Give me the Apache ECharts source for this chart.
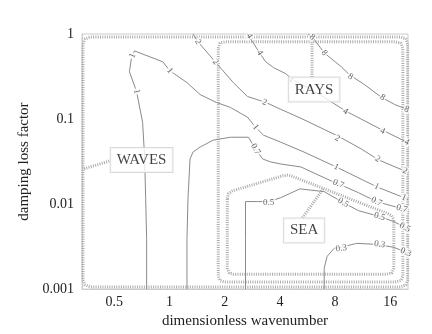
<!DOCTYPE html>
<html><head><meta charset="utf-8">
<script src="https://cdn.jsdelivr.net/npm/echarts@6/dist/echarts.min.js"></script>
<style>html,body{margin:0;padding:0;background:#fff}#c{width:432px;height:334px}</style>
</head><body><div id="c"></div>
<script>
// ---- data (x = dimensionless wavenumber, y = damping loss factor) ----
const xTickValues = [0.5, 1, 2, 4, 8, 16];
const yTickValues = [0.001, 0.01, 0.1, 1];

const contour8 = [[5.70,1],[6.07,0.898],[6.98,0.600],[8.65,0.412],[9.58,0.332],[11.58,0.254],[14.37,0.179],[16.94,0.148],[19.72,0.130],[20,0.123]];
const contour4 = [[2.663,1],[2.838,0.807],[3.101,0.600],[3.346,0.471],[3.702,0.401],[4.310,0.341],[4.711,0.291],[6.718,0.189],[9.221,0.123],[14.55,0.0738],[19.72,0.0534],[20,0.0507]];
const contour2 = [[1.343,1],[1.431,0.807],[1.775,0.471],[2.230,0.268],[2.663,0.184],[3.346,0.157],[4.045,0.130],[5.214,0.102],[8.333,0.0628],[11.15,0.0443],[13.83,0.0330],[19.23,0.0245],[20,0.0232]];
const contour1 = [[0.750,0.001],[0.750,0.00395],[0.741,0.0116],[0.731,0.0367],[0.713,0.0915],[0.661,0.211],[0.604,0.36],[0.620,0.525],[0.644,0.633],[0.919,0.471],[1.004,0.370],[1.245,0.268],[1.468,0.194],[1.798,0.157],[2.147,0.137],[2.663,0.105],[2.947,0.080],[3.262,0.0645],[4.045,0.0534],[5.416,0.0409],[8.122,0.0273],[13.48,0.0160],[18.99,0.0119],[20,0.0113]];
const contour07 = [[1.245,0.001],[1.245,0.00395],[1.261,0.0116],[1.294,0.0339],[1.343,0.0409],[1.468,0.0468],[1.731,0.0564],[2.147,0.0611],[2.697,0.0611],[2.947,0.0443],[3.220,0.0339],[3.565,0.0313],[4.045,0.0296],[5.214,0.0273],[7.624,0.0187],[8.333,0.0173],[10.73,0.0136],[13.48,0.0107],[18.51,0.00883],[20,0.00815]];
const contour05 = [[2.597,0.001],[2.597,0.00395],[2.597,0.0107],[3.023,0.0107],[3.475,0.0107],[4.045,0.0119],[5.148,0.0151],[6.979,0.0140],[8.875,0.0104],[10.73,0.00837],[14.01,0.00713],[16.73,0.00623],[19.23,0.00531],[20,0.00503]];
const contour03 = [[6.979,0.001],[6.979,0.00176],[7.245,0.00243],[7.918,0.00302],[8.652,0.00310],[10.47,0.00345],[13.48,0.00336],[16.73,0.00310],[19.47,0.00271],[20,0.00257]];

const labels8 = [[6.0,0.92],[6.98,0.60],[9.70,0.315],[14.55,0.179],[19.7,0.130]];
const labels4 = [[2.73,0.948],[3.10,0.60],[4.59,0.291],[9.10,0.123],[14.55,0.072],[19.72,0.0534]];
const labels2 = [[1.43,0.807],[1.78,0.471],[3.30,0.157],[8.23,0.0595],[13.65,0.0339],[19.23,0.0245]];
const labels1 = [[0.628,0.554],[0.661,0.211],[1.004,0.370],[2.947,0.080],[8.122,0.0273],[13.48,0.016],[18.99,0.0119]];
const labels07 = [[2.947,0.0443],[8.333,0.0173],[13.48,0.0107],[18.51,0.00883]];
const labels05 = [[3.475,0.0104],[8.875,0.0104],[14.01,0.00713],[19.23,0.00531]];
const labels03 = [[8.652,0.00302],[14.01,0.00336],[19.47,0.00271]];

const contourNames = ['8', '4', '2', '1', '0.7', '0.5', '0.3'];

const wavesRegion = [[0.337,0.764],[0.346,0.874],[0.369,0.923],[18.28,0.923],[19.47,0.874],[19.9,0.764],[19.9,0.00128],[19.47,0.00112],[18.28,0.00106],[0.369,0.00106],[0.346,0.00112],[0.337,0.00128],[0.337,0.764]];
const raysRegion = [[1.844,0.680],[1.885,0.785],[1.998,0.808],[16.94,0.808],[18.28,0.785],[18.75,0.680],[18.75,0.00140],[18.28,0.00126],[16.94,0.00121],[1.998,0.00121],[1.885,0.00126],[1.844,0.00140],[1.844,0.680]];
const seaRegion = [[2.066,0.0116],[2.093,0.0132],[2.202,0.0143],[4.150,0.0215],[4.365,0.0220],[4.593,0.0215],[15.50,0.00773],[16.30,0.00732],[16.73,0.00658],[16.73,0.00176],[16.30,0.00154],[15.30,0.00150],[2.230,0.00150],[2.120,0.00154],[2.066,0.00176],[2.066,0.0116]];
const wavesLink = [[0.342,0.026],[0.470,0.0321]];
const raysLink = [[5.99,0.923],[5.99,0.307]];
const seaLink = [[6.89,0.0151],[5.28,0.00676]];

const regionNames = ['WAVES', 'RAYS', 'SEA'];
const regionLabelPos = [[0.704,0.0330],[6.15,0.222],[5.42,0.00489]];

const xTitle = 'dimensionless wavenumber';
const yTitle = 'damping loss factor';

// ---- chart ----
const serif = 'Liberation Serif';
const lineGray = '#8a8a8a';
const dotGray = '#ababab';
const contours = [contour8, contour4, contour2, contour1, contour07, contour05, contour03];
const contourLabels = [labels8, labels4, labels2, labels1, labels07, labels05, labels03];

function buildSeries(rotations) {
  const series = [];
  [wavesRegion, raysRegion, seaRegion, wavesLink, raysLink, seaLink].forEach(function (d) {
    series.push({type: 'line', data: d, symbol: 'none', silent: true, z: 1,
      lineStyle: {color: dotGray, width: 3, type: [1, 1.3]}});
  });
  contours.forEach(function (d) {
    series.push({type: 'line', data: d, symbol: 'none', silent: true, z: 2,
      lineStyle: {color: lineGray, width: 1}});
  });
  contourLabels.forEach(function (d, i) {
    series.push({type: 'scatter', symbolSize: 0, silent: true, z: 3,
      data: d.map(function (p, j) {
        return {value: p, label: {rotate: rotations ? rotations[i][j] : 0}};
      }),
      label: {show: true, position: 'inside', formatter: contourNames[i], fontFamily: serif,
        fontSize: 9, color: '#3a3a3a', backgroundColor: '#fff', padding: [0, 1]}});
  });
  series.push({type: 'scatter', symbolSize: 0, silent: true, z: 4,
    data: regionLabelPos.map(function (p, i) { return {value: p, name: regionNames[i]}; }),
    label: {show: true, position: 'inside', formatter: '{b}', fontFamily: serif, fontSize: 15,
      color: '#111', backgroundColor: '#fff', borderColor: '#cfcfcf', borderWidth: 1, padding: [5, 6, 4, 6]}});
  return series;
}

const chart = echarts.init(document.getElementById('c'), null, {renderer: 'canvas'});
chart.setOption({
  animation: false,
  grid: {left: 82, right: 24, top: 34, bottom: 43, show: true, borderColor: '#cccccc', borderWidth: 1},
  xAxis: {type: 'log', logBase: 2, min: 0.333, max: 20,
    name: xTitle, nameLocation: 'middle', nameGap: 21,
    nameTextStyle: {fontFamily: serif, fontSize: 15, color: '#222'},
    axisLine: {show: true, lineStyle: {color: '#cccccc'}},
    axisTick: {show: false}, splitLine: {show: false},
    axisLabel: {fontFamily: serif, fontSize: 14, color: '#222', margin: 6,
      showMinLabel: false, showMaxLabel: false,
      formatter: function (v) { return xTickValues.indexOf(+v.toPrecision(6)) >= 0 ? String(+v.toPrecision(6)) : ''; }}},
  yAxis: {type: 'log', logBase: 10, min: 0.001, max: 1,
    name: yTitle, nameLocation: 'middle', nameGap: 47,
    nameTextStyle: {fontFamily: serif, fontSize: 15, color: '#222'},
    axisLine: {show: true, lineStyle: {color: '#cccccc'}},
    axisTick: {show: false}, splitLine: {show: false},
    axisLabel: {fontFamily: serif, fontSize: 14, color: '#222', margin: 8,
      formatter: function (v) { return yTickValues.indexOf(+v.toPrecision(6)) >= 0 ? String(+v.toPrecision(6)) : ''; }}},
  series: buildSeries(null)
});

// orient each contour label along its line (angle measured through the axes' own scales)
function px(p) { return chart.convertToPixel({gridIndex: 0}, p); }
const rotations = contourLabels.map(function (labels, i) {
  const line = contours[i].map(px);
  return labels.map(function (p) {
    const q = px(p);
    let best = 0, bd = Infinity;
    for (let k = 0; k < line.length - 1; k++) {
      const a = line[k], b = line[k + 1];
      const dx = b[0] - a[0], dy = b[1] - a[1];
      const L = dx * dx + dy * dy || 1;
      let t = ((q[0] - a[0]) * dx + (q[1] - a[1]) * dy) / L;
      t = Math.max(0, Math.min(1, t));
      const ex = a[0] + t * dx - q[0], ey = a[1] + t * dy - q[1];
      const d = ex * ex + ey * ey;
      if (d < bd) { bd = d; best = Math.atan2(dy, dx); }
    }
    let deg = -best * 180 / Math.PI;
    if (deg > 90) deg -= 180;
    if (deg < -90) deg += 180;
    return deg;
  });
});
chart.setOption({series: buildSeries(rotations)});
</script></body></html>
